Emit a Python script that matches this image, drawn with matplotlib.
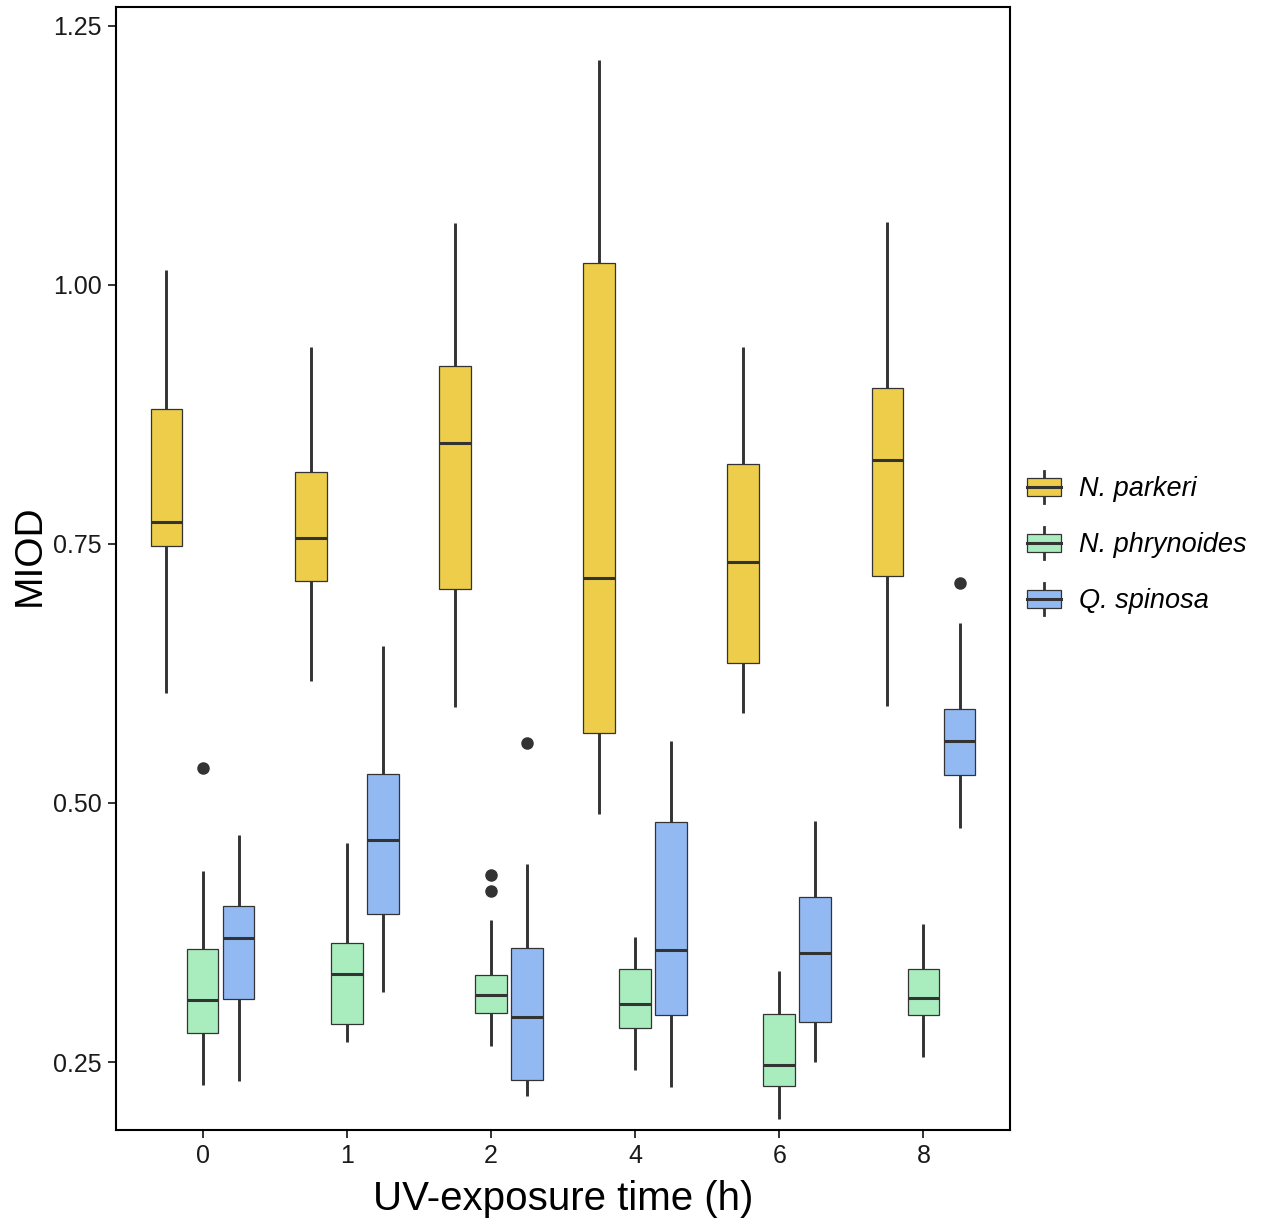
"""MIOD vs UV-exposure time, grouped boxplots for three species."""

import matplotlib

matplotlib.use("Agg")
import matplotlib.pyplot as plt
from matplotlib.legend_handler import HandlerBase
from matplotlib.lines import Line2D
from matplotlib.patches import Patch, Rectangle

plt.rcParams["font.family"] = ["Liberation Sans", "DejaVu Sans"]

# exposure time categories (h)
times = ["0", "1", "2", "4", "6", "8"]
species = ["N. parkeri", "N. phrynoides", "Q. spinosa"]
colors = ["#EDCD4A", "#A9EDBE", "#93B9F3"]

# box statistics: lower whisker, Q1, median, Q3, upper whisker
parkeri_whislo = [0.606, 0.618, 0.593, 0.489, 0.587, 0.594]
parkeri_q1 = [0.748, 0.714, 0.706, 0.567, 0.635, 0.719]
parkeri_med = [0.771, 0.756, 0.847, 0.717, 0.732, 0.831]
parkeri_q3 = [0.880, 0.819, 0.922, 1.021, 0.827, 0.900]
parkeri_whishi = [1.014, 0.940, 1.060, 1.217, 0.940, 1.061]
parkeri_fliers = [[], [], [], [], [], []]

phryn_whislo = [0.228, 0.269, 0.265, 0.242, 0.195, 0.255]
phryn_q1 = [0.278, 0.287, 0.297, 0.283, 0.227, 0.295]
phryn_med = [0.310, 0.335, 0.315, 0.306, 0.247, 0.312]
phryn_q3 = [0.359, 0.365, 0.334, 0.340, 0.296, 0.340]
phryn_whishi = [0.434, 0.461, 0.387, 0.371, 0.338, 0.383]
phryn_fliers = [[0.534], [], [0.430, 0.415], [], [], []]

spin_whislo = [0.232, 0.318, 0.217, 0.226, 0.250, 0.476]
spin_q1 = [0.311, 0.393, 0.233, 0.295, 0.289, 0.527]
spin_med = [0.370, 0.464, 0.293, 0.358, 0.355, 0.560]
spin_q3 = [0.401, 0.528, 0.360, 0.482, 0.409, 0.591]
spin_whishi = [0.469, 0.651, 0.441, 0.560, 0.483, 0.674]
spin_fliers = [[], [], [0.558], [], [], [0.712]]

series = [
    (parkeri_whislo, parkeri_q1, parkeri_med, parkeri_q3, parkeri_whishi, parkeri_fliers),
    (phryn_whislo, phryn_q1, phryn_med, phryn_q3, phryn_whishi, phryn_fliers),
    (spin_whislo, spin_q1, spin_med, spin_q3, spin_whishi, spin_fliers),
]

DARK = "#333333"


class BoxKeyHandler(HandlerBase):
    """Legend key drawn like a small ggplot boxplot glyph."""

    def create_artists(self, legend, orig_handle, xdescent, ydescent,
                       width, height, fontsize, trans):
        x0, y0 = -xdescent, -ydescent
        xm = x0 + width / 2
        ym = y0 + height / 2
        bh = height * 0.55
        box = Rectangle((x0, ym - bh / 2), width, bh,
                        facecolor=orig_handle.get_facecolor(),
                        edgecolor=DARK, lw=0.9, transform=trans)
        wl = Line2D([xm, xm], [y0, ym - bh / 2], color=DARK, lw=2.0, transform=trans)
        wh = Line2D([xm, xm], [ym + bh / 2, y0 + height], color=DARK, lw=2.0, transform=trans)
        med = Line2D([x0, x0 + width], [ym, ym], color=DARK, lw=2.2, transform=trans)
        return [wl, wh, box, med]


fig = plt.figure(figsize=(12.62, 12.24), dpi=100)
ax = fig.add_axes([116 / 1262, 1 - 1130 / 1224, (1010 - 116) / 1262, (1130 - 7) / 1224])

offsets = [-0.25, 0.0, 0.25]
for (whislo, q1, med, q3, whishi, fliers), color, off in zip(series, colors, offsets):
    stats = []
    for i in range(len(times)):
        stats.append({
            "whislo": whislo[i], "q1": q1[i], "med": med[i],
            "q3": q3[i], "whishi": whishi[i], "fliers": fliers[i],
        })
    positions = [i + off for i in range(len(times))]
    ax.bxp(
        stats, positions=positions, widths=0.22, patch_artist=True,
        showcaps=False,
        boxprops=dict(facecolor=color, edgecolor=DARK, linewidth=0.9),
        whiskerprops=dict(color=DARK, linewidth=2.1, solid_capstyle="butt"),
        medianprops=dict(color=DARK, linewidth=2.2, solid_capstyle="butt"),
        flierprops=dict(marker="o", markerfacecolor=DARK, markeredgecolor=DARK,
                        markersize=8),
        zorder=2,
    )

ax.set_xlim(-0.6, len(times) - 0.4)
ax.set_ylim(0.1844, 1.268)
ax.set_xticks(range(len(times)))
ax.set_xticklabels(times)
ax.set_yticks([0.25, 0.50, 0.75, 1.00, 1.25])
ax.set_yticklabels(["0.25", "0.50", "0.75", "1.00", "1.25"])
ax.tick_params(axis="both", labelsize=18, length=6, width=1.4,
               color=DARK, labelcolor="#1a1a1a", pad=4)
for spine in ax.spines.values():
    spine.set_linewidth(1.5)
    spine.set_color("black")

ax.set_xlabel("UV-exposure time (h)", fontsize=29, labelpad=9)
ax.set_ylabel("MIOD", fontsize=28, labelpad=4, y=0.512)

handles = [Patch(facecolor=c, label=s) for c, s in zip(colors, species)]
fig.legend(
    handles=handles, labels=species,
    handler_map={Patch: BoxKeyHandler()},
    loc="center left", bbox_to_anchor=(1027 / 1262, 1 - 543 / 1224),
    frameon=False, borderpad=0, borderaxespad=0,
    prop={"style": "italic", "size": 19.5},
    handlelength=1.26, handleheight=1.48, handletextpad=0.65,
    labelspacing=0.86,
)

fig.savefig("out.png", dpi=100)
